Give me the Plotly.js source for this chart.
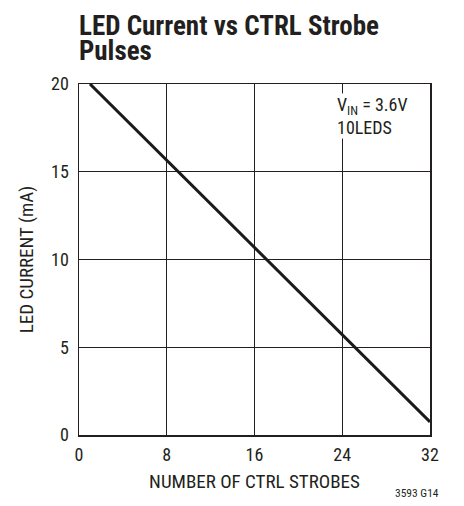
<!DOCTYPE html>
<html>
<head>
<meta charset="utf-8">
<script src="https://cdn.plot.ly/plotly-3.0.1.min.js"></script>
<style>html,body{margin:0;padding:0;background:#fff;}#chart{width:464px;height:506px;}</style>
</head>
<body>
<div id="chart"></div>
<script>
var strobes = [1, 32];
var ledCurrent = [20, 0.75];
var xTicks = [0, 8, 16, 24, 32];
var yTicks = [0, 5, 10, 15, 20];

var FONT = "'Liberation Sans Narrow', 'Roboto Condensed', 'Liberation Sans', sans-serif";
var trace = {
  x: strobes, y: ledCurrent, mode: 'lines', type: 'scatter',
  line: {color: '#1a1a1a', width: 3}, hoverinfo: 'skip', showlegend: false
};
var layout = {
  width: 464, height: 506,
  margin: {l: 79, r: 34, t: 84, b: 71},
  paper_bgcolor: '#fff', plot_bgcolor: '#fff',
  font: {family: FONT, color: '#231f20', size: 17},
  xaxis: {
    range: [0, 32], tickvals: xTicks, ticktext: xTicks.map(String),
    showgrid: true, gridcolor: '#231f20', gridwidth: 1,
    showline: true, linecolor: '#231f20', linewidth: 1.5, mirror: true,
    ticks: '', zeroline: false, fixedrange: true, ticklabelstandoff: 3,
    tickfont: {size: 18},
    title: {text: 'NUMBER OF CTRL STROBES', font: {size: 19}, standoff: 10}
  },
  yaxis: {
    range: [0, 20], tickvals: yTicks, ticktext: yTicks.map(String),
    showgrid: true, gridcolor: '#231f20', gridwidth: 1,
    showline: true, linecolor: '#231f20', linewidth: 1.5, mirror: true,
    ticks: '', zeroline: false, fixedrange: true, ticklabelstandoff: 5,
    tickfont: {size: 18},
    title: {text: 'LED CURRENT (mA)', font: {size: 19}, standoff: 12}
  },
  annotations: [
    {text: '<b>LED Current vs CTRL Strobe</b>', xref: 'paper', yref: 'paper',
     x: -0.005, y: 1.216, xanchor: 'left', yanchor: 'top', align: 'left',
     showarrow: false, font: {size: 27, color: '#231f20'}},
    {text: '<b>Pulses</b>', xref: 'paper', yref: 'paper',
     x: -0.005, y: 1.145, xanchor: 'left', yanchor: 'top', align: 'left',
     showarrow: false, font: {size: 27, color: '#231f20'}},
    {text: 'V<sub>IN</sub> = 3.6V<br>10LEDS', xref: 'paper', yref: 'paper',
     x: 0.732, y: 0.975, xanchor: 'left', yanchor: 'top', align: 'left',
     showarrow: false, bgcolor: '#fff', font: {size: 18}, borderpad: 0},
    {text: '3593 G14', xref: 'paper', yref: 'paper', x: 1.03, y: -0.14,
     xanchor: 'right', yanchor: 'top', showarrow: false, font: {size: 11.5}}
  ]
};
Plotly.newPlot('chart', [trace], layout, {displayModeBar: false, staticPlot: true});
</script>
</body>
</html>
